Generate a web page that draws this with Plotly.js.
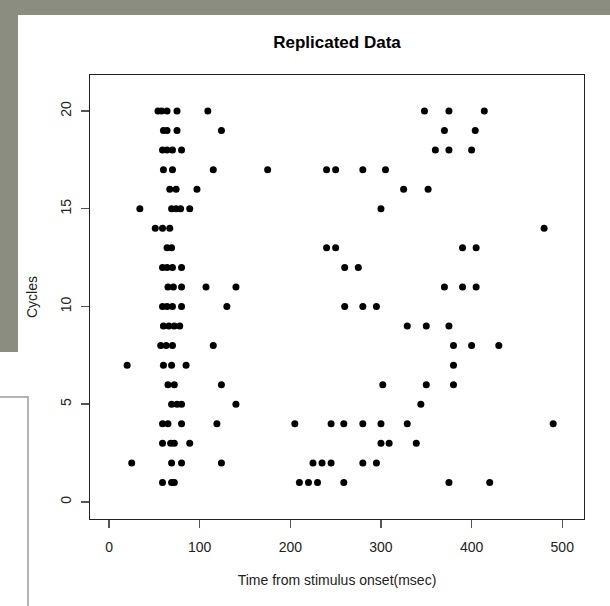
<!DOCTYPE html>
<html>
<head>
<meta charset="utf-8">
<script src="https://cdn.plot.ly/plotly-3.0.1.min.js"></script>
<style>
  html, body { margin: 0; padding: 0; }
  body { width: 610px; height: 606px; position: relative; overflow: hidden;
         background: #8a8d7f; }
  #leftwhite { position: absolute; left: 0; top: 352px; width: 20px; height: 254px; background: #fff; }
  #chart { position: absolute; left: 18px; top: 15px; width: 592px; height: 591px; background: #fff; }
  #box { position: absolute; left: -4px; top: 396px; width: 31px; height: 230px;
         border-top: 2px solid #b4b4b4; border-right: 2px solid #b4b4b4; pointer-events: none; }
</style>
</head>
<body>
<div id="leftwhite"></div>
<div id="chart"></div>
<div id="box"></div>
<script>
// Spike times (msec) for each cycle
const cycle1  = [59, 69, 72, 210, 220, 230, 259, 375, 420];
const cycle2  = [25, 69, 80, 124, 225, 235, 245, 280, 295];
const cycle3  = [59, 68, 72, 89, 300, 309, 339];
const cycle4  = [59, 65, 80, 119, 205, 245, 259, 280, 300, 329, 490];
const cycle5  = [69, 75, 80, 140, 344];
const cycle6  = [65, 72, 124, 302, 350, 380];
const cycle7  = [20, 60, 69, 85, 380];
const cycle8  = [57, 63, 70, 115, 380, 400, 430];
const cycle9  = [60, 66, 72, 78, 329, 350, 375];
const cycle10 = [59, 64, 70, 80, 130, 260, 280, 295];
const cycle11 = [65, 71, 80, 107, 140, 370, 390, 405];
const cycle12 = [59, 64, 70, 80, 260, 275];
const cycle13 = [64, 69, 240, 250, 390, 405];
const cycle14 = [51, 59, 67, 480];
const cycle15 = [34, 69, 74, 79, 89, 300];
const cycle16 = [67, 74, 97, 325, 352];
const cycle17 = [60, 70, 115, 175, 240, 250, 280, 305];
const cycle18 = [59, 64, 70, 80, 360, 375, 400];
const cycle19 = [60, 64, 75, 124, 370, 404];
const cycle20 = [54, 58, 64, 75, 109, 348, 375, 414];

const cycleList = [cycle1, cycle2, cycle3, cycle4, cycle5, cycle6, cycle7, cycle8, cycle9, cycle10,
                   cycle11, cycle12, cycle13, cycle14, cycle15, cycle16, cycle17, cycle18, cycle19, cycle20];
const xTicks = [0, 100, 200, 300, 400, 500];
const yTicks = [0, 5, 10, 15, 20];

const xs = [], ys = [];
cycleList.forEach((arr, i) => { arr.forEach(t => { xs.push(t); ys.push(i + 1); }); });

const trace = {
  x: xs, y: ys, type: 'scatter', mode: 'markers',
  marker: { color: '#000', size: 7 },
  hoverinfo: 'x+y'
};

const fontFam = 'Liberation Sans, Arial, sans-serif';
const layout = {
  width: 592, height: 591,
  margin: { l: 72, r: 26, t: 60, b: 87 },
  paper_bgcolor: '#fff', plot_bgcolor: '#fff',
  showlegend: false,
  font: { family: fontFam, color: '#222', size: 14 },
  title: { text: '<b>Replicated Data</b>', x: 0.5, xref: 'paper', y: 0.954, yref: 'container',
           yanchor: 'middle', font: { family: fontFam, size: 17, color: '#000' } },
  xaxis: {
    range: [-21, 524], tickvals: xTicks, ticktext: xTicks.map(String),
    ticks: 'outside', ticklen: 8, tickwidth: 1.5, tickcolor: '#555',
    ticklabelstandoff: 7,
    showline: true, mirror: true, linecolor: '#222', linewidth: 1.2,
    showgrid: false, zeroline: false,
    tickfont: { family: fontFam, size: 14, color: '#222' },
    title: { text: 'Time from stimulus onset(msec)', standoff: 21,
             font: { family: fontFam, size: 14, color: '#222' } }
  },
  yaxis: {
    range: [-0.87, 21.84], tickvals: yTicks, ticktext: yTicks.map(String),
    ticks: 'outside', ticklen: 8, tickwidth: 1.5, tickcolor: '#555',
    tickangle: -90, ticklabelstandoff: 4,
    showline: true, mirror: true, linecolor: '#222', linewidth: 1.2,
    showgrid: false, zeroline: false,
    tickfont: { family: fontFam, size: 14, color: '#222' },
    title: { text: 'Cycles', standoff: 17,
             font: { family: fontFam, size: 14, color: '#222' } }
  }
};

Plotly.newPlot('chart', [trace], layout, { displayModeBar: false, staticPlot: true });
</script>
</body>
</html>
